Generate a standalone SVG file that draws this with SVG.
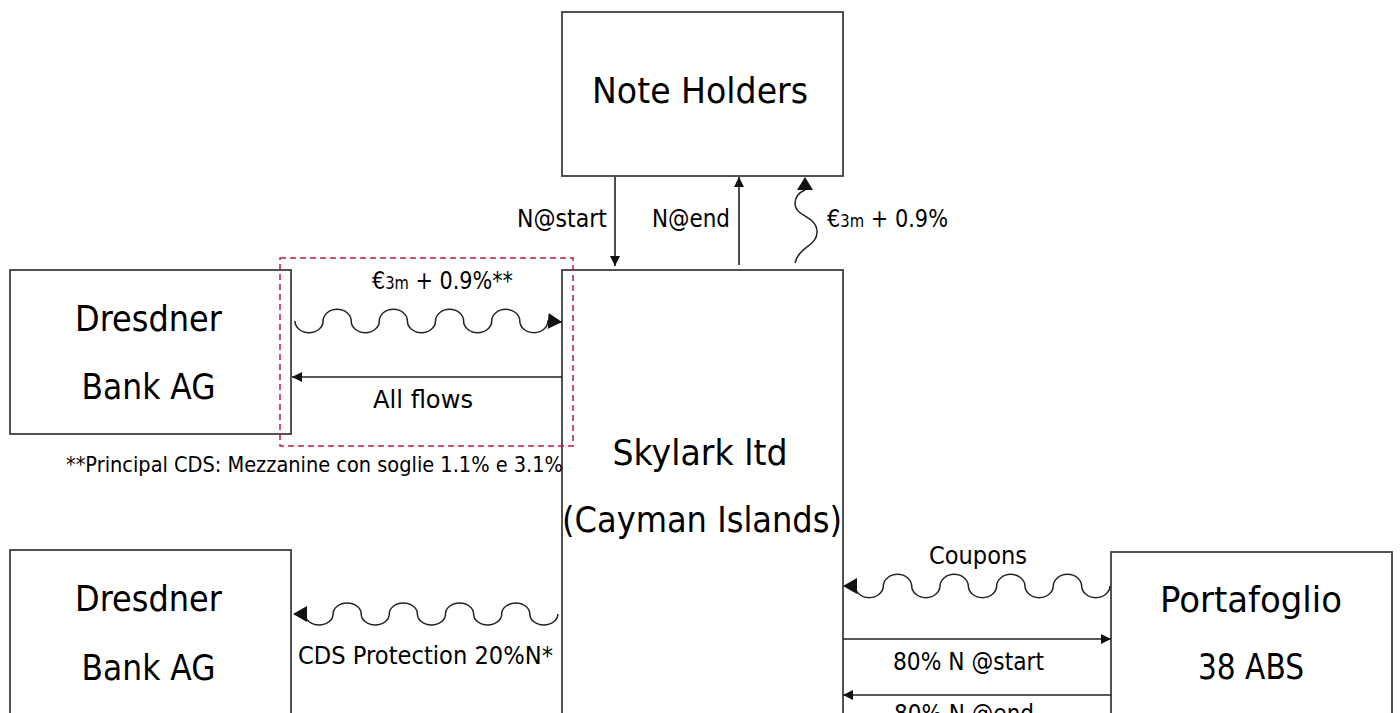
<svg xmlns="http://www.w3.org/2000/svg" width="1400" height="713" viewBox="0 0 1400 713">
<defs>
<style>
.box{fill:#fff;stroke:#404040;stroke-width:1.8}
.big{font-family:"DejaVu Sans","Liberation Sans",sans-serif;font-size:36px;fill:#000;text-anchor:middle}
.lbl{font-family:"DejaVu Sans","Liberation Sans",sans-serif;font-size:24px;fill:#000}
.sub{font-size:17px}
.ln{fill:none;stroke:#222;stroke-width:1.6}
.wv{fill:none;stroke:#222;stroke-width:1.5}
.red{fill:none;stroke:#c8173c;stroke-width:1.5;stroke-dasharray:6 4}
</style>
<marker id="sa" viewBox="0 0 10 10" refX="10" refY="5" markerWidth="10" markerHeight="10" markerUnits="userSpaceOnUse" orient="auto">
<path d="M0,0 L10,5 L0,10 Z" fill="#111"/>
</marker>
<marker id="ba" viewBox="0 0 14 16" refX="14" refY="8" markerWidth="14" markerHeight="16" markerUnits="userSpaceOnUse" orient="auto">
<path d="M0,0 L14,8 L0,16 Z" fill="#111"/>
</marker>
</defs>
<rect width="1400" height="713" fill="#fff"/>

<g id="note-holders">
<rect class="box" x="562" y="12" width="281" height="164"/>
<text class="big" x="700" y="103" textLength="216" lengthAdjust="spacingAndGlyphs">Note Holders</text>
</g>

<g id="dresdner-top">
<rect class="box" x="10" y="270" width="281" height="164"/>
<text class="big" x="148.5" y="331" textLength="147" lengthAdjust="spacingAndGlyphs">Dresdner</text>
<text class="big" x="148.5" y="399" textLength="134" lengthAdjust="spacingAndGlyphs">Bank AG</text>
</g>

<g id="skylark">
<rect class="box" x="562" y="270" width="281" height="500"/>
<text class="big" x="700" y="465" textLength="175" lengthAdjust="spacingAndGlyphs">Skylark ltd</text>
<text class="big" x="702" y="532" textLength="280" lengthAdjust="spacingAndGlyphs">(Cayman Islands)</text>
</g>

<g id="dresdner-bottom">
<rect class="box" x="10" y="550" width="281" height="220"/>
<text class="big" x="148.5" y="611" textLength="147" lengthAdjust="spacingAndGlyphs">Dresdner</text>
<text class="big" x="148.5" y="680" textLength="134" lengthAdjust="spacingAndGlyphs">Bank AG</text>
</g>

<g id="portafoglio">
<rect class="box" x="1111" y="552" width="281" height="220"/>
<text class="big" x="1251" y="612" textLength="182" lengthAdjust="spacingAndGlyphs">Portafoglio</text>
<text class="big" x="1251" y="679" textLength="106" lengthAdjust="spacingAndGlyphs">38 ABS</text>
</g>

<g id="principal-cds-box">
<rect class="red" x="280" y="258" width="293" height="188"/>
</g>

<g id="connectors">
<line class="ln" x1="615" y1="177" x2="615" y2="266" marker-end="url(#sa)"/>
<line class="ln" x1="739" y1="265" x2="739" y2="177" marker-end="url(#sa)"/>
<path class="wv" d="M795,263 C799,246 818,246 817,231 C816,216 795,216 795,204 C795,196 800,192 805,190"/>
<path d="M797,190 L805,177 L813,190 Z" fill="#111"/>

<path class="wv" d="M295,321 a14.05,11.7 0 0,0 28.1,0 a14.05,11.7 0 0,1 28.1,0 a14.05,11.7 0 0,0 28.1,0 a14.05,11.7 0 0,1 28.1,0 a14.05,11.7 0 0,0 28.1,0 a14.05,11.7 0 0,1 28.1,0 a14.05,11.7 0 0,0 28.1,0 a14.05,11.7 0 0,1 28.1,0 a14.05,11.7 0 0,0 28.1,0 L562,322" marker-end="url(#ba)"/>
<line class="ln" x1="562" y1="377" x2="292" y2="377" marker-end="url(#sa)"/>

<path class="wv" d="M305,614 a14.05,11 0 0,0 28.1,0 a14.05,11 0 0,1 28.1,0 a14.05,11 0 0,0 28.1,0 a14.05,11 0 0,1 28.1,0 a14.05,11 0 0,0 28.1,0 a14.05,11 0 0,1 28.1,0 a14.05,11 0 0,0 28.1,0 a14.05,11 0 0,1 28.1,0 a14.05,11 0 0,0 28.1,0"/>
<path d="M307,606 L293,614 L307,622 Z" fill="#111"/>

<path class="wv" d="M855,586 a14.17,12 0 0,0 28.33,0 a14.17,12 0 0,1 28.33,0 a14.17,12 0 0,0 28.33,0 a14.17,12 0 0,1 28.33,0 a14.17,12 0 0,0 28.33,0 a14.17,12 0 0,1 28.33,0 a14.17,12 0 0,0 28.33,0 a14.17,12 0 0,1 28.33,0 a14.17,12 0 0,0 28.33,0"/>
<path d="M857,578 L843,586 L857,594 Z" fill="#111"/>

<line class="ln" x1="843" y1="639" x2="1111" y2="639" marker-end="url(#sa)"/>
<line class="ln" x1="1111" y1="695" x2="843" y2="695" marker-end="url(#sa)"/>
</g>

<g id="labels">
<text class="lbl" x="517" y="227" textLength="90" lengthAdjust="spacingAndGlyphs">N@start</text>
<text class="lbl" x="652" y="227" textLength="78" lengthAdjust="spacingAndGlyphs">N@end</text>
<text class="lbl" x="827" y="227" textLength="121" lengthAdjust="spacingAndGlyphs">€<tspan class="sub">3m</tspan> + 0.9%</text>
<text class="lbl" x="372" y="289" textLength="141" lengthAdjust="spacingAndGlyphs">€<tspan class="sub">3m</tspan> + 0.9%**</text>
<text class="lbl" x="373" y="408" textLength="100" lengthAdjust="spacingAndGlyphs">All flows</text>
<text class="lbl" x="66" y="472" style="font-size:21px" textLength="497" lengthAdjust="spacingAndGlyphs">**Principal CDS: Mezzanine con soglie 1.1% e 3.1%</text>
<text class="lbl" x="929" y="564" textLength="98" lengthAdjust="spacingAndGlyphs">Coupons</text>
<text class="lbl" x="893" y="670" textLength="151" lengthAdjust="spacingAndGlyphs">80% N @start</text>
<text class="lbl" x="298" y="664" textLength="255" lengthAdjust="spacingAndGlyphs">CDS Protection 20%N*</text>
<text class="lbl" x="894" y="722" textLength="140" lengthAdjust="spacingAndGlyphs">80% N @end</text>
</g>
</svg>
